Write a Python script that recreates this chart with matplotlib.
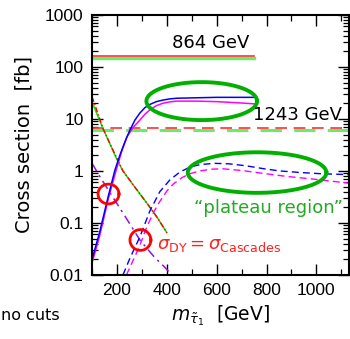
import numpy as np
import matplotlib
matplotlib.use("Agg")
import matplotlib.pyplot as plt

plt.rcParams["font.family"] = ["DejaVu Sans"]
plt.rcParams["mathtext.fontset"] = "dejavusans"

# --- cross sections vs stau mass [GeV] -> [fb] ---
# direct production, solid (blue / magenta)
m_dir_b = [100, 130, 166, 192, 210, 224, 238, 252, 272, 292, 312, 332, 358,
           384, 410, 440, 520, 600, 750]
xs_dir_b = [0.02, 0.065, 0.34, 1.05, 1.9, 2.9, 4.3, 6.1, 9.5, 13, 16.5, 19,
            21.5, 23, 24.2, 25, 25.5, 26, 26]
m_dir_m = [100, 130, 166, 196, 218, 240, 265, 292, 312, 332, 358, 384, 410,
           440, 520, 600, 680, 750]
xs_dir_m = [0.017, 0.055, 0.3, 1.0, 2.3, 4.5, 6.9, 9.5, 12.3, 15, 18, 20,
            21.2, 22, 22, 21.5, 20.5, 19.5]

# second benchmark, dashed (blue / magenta)
m_b2_b = [224, 252, 292, 332, 372, 412, 452, 492, 532, 590, 650, 720, 790,
          852, 940, 1024, 1132]
xs_b2_b = [0.01, 0.021, 0.054, 0.17, 0.4, 0.67, 0.95, 1.18, 1.32, 1.4, 1.37,
           1.25, 1.1, 1.0, 0.93, 0.88, 0.85]
m_b2_m = [238, 260, 290, 320, 350, 372, 400, 424, 460, 492, 532, 580, 624,
          700, 784, 884, 984, 1132]
xs_b2_m = [0.01, 0.017, 0.035, 0.085, 0.17, 0.26, 0.41, 0.55, 0.74, 0.88,
           1.0, 1.08, 1.1, 1.02, 0.9, 0.78, 0.7, 0.58]

# Drell-Yan (dash-dot violet)
m_dy = [100, 130, 172, 230, 292, 350, 392, 420]
xs_dy = [1.4, 0.8, 0.38, 0.14, 0.047, 0.022, 0.014, 0.01]

# cascades, falling (red / green)
m_cas_r = [100, 144, 184, 224, 270, 320, 360, 400]
xs_cas_r = [27, 6.5, 2.5, 1.0, 0.5, 0.24, 0.13, 0.065]
m_cas_g = [100, 144, 204, 224, 270, 320, 360, 400]
xs_cas_g = [21, 6.5, 1.5, 1.0, 0.5, 0.24, 0.13, 0.065]

# flat totals for the two benchmark points
m_flat1 = [100, 750]
xs_flat1_r = [160, 160]
xs_flat1_g = [150, 150]
m_flat2 = [100, 1140]
xs_flat2_r = [6.6, 6.6]
xs_flat2_g = [6.2, 6.2]

x_ticks = [200, 400, 600, 800, 1000]
y_ticks = [0.01, 0.1, 1, 10, 100, 1000]
y_tick_labels = ["0.01", "0.1", "1", "10", "100", "1000"]

fig = plt.figure(figsize=(3.5, 3.39), dpi=100)
ax = fig.add_axes([0.263, 0.189, 0.735, 0.767])
ax.set_yscale("log")
ax.set_xlim(100, 1132)
ax.set_ylim(0.01, 1000)

ax.plot(m_flat1, xs_flat1_g, color="#66ee66", lw=2.4)
ax.plot(m_flat1, xs_flat1_r, color="#ff3030", lw=1.2)
ax.plot(m_flat2, xs_flat2_g, color="#66ee66", lw=2.2, dashes=(7, 4))
ax.plot(m_flat2, xs_flat2_r, color="#ff3030", lw=1.2, dashes=(7, 4))

ax.plot(m_cas_g, xs_cas_g, color="#00ee00", lw=1.1)
ax.plot(m_cas_r, xs_cas_r, color="#ff0000", lw=1.0, dashes=(4, 1.5, 1, 1.5))

ax.plot(m_dy, xs_dy, color="#9a10e0", lw=1.1, dashes=(6, 3, 1.5, 3))

ax.plot(m_dir_m, xs_dir_m, color="#ff00ff", lw=1.1)
ax.plot(m_dir_b, xs_dir_b, color="#0000ff", lw=1.1)
ax.plot(m_b2_m, xs_b2_m, color="#ff00ff", lw=1.0, dashes=(5, 3))
ax.plot(m_b2_b, xs_b2_b, color="#0000ff", lw=1.0, dashes=(5, 3))


def ring(cx, cy, half_w, half_dec, **kw):
    # closed loop that looks round/elliptic on a log y axis
    t = np.linspace(0, 2 * np.pi, 200)
    ax.plot(cx + half_w * np.cos(t), cy * 10 ** (half_dec * np.sin(t)), **kw)


ring(540, 22, 222, 0.365, color="#00b000", lw=2.8)
ring(762, 0.93, 278, 0.39, color="#00b000", lw=2.8)
ring(166, 0.36, 42, 0.19, color="#ff0000", lw=2.0)
ring(294, 0.047, 42, 0.2, color="#ff0000", lw=2.0)

ax.text(420, 290, "864 GeV", fontsize=13, va="center", ha="left")
ax.text(744, 12, "1243 GeV", fontsize=13, va="center", ha="left")
ax.text(808, 0.195, "\u201cplateau region\u201d", fontsize=13, color="#22aa22",
        va="center", ha="center")
ax.text(360, 0.038, r"$\sigma_{\rm DY} = \sigma_{\rm Cascades}$", fontsize=13,
        color="#ff2020", va="center", ha="left")

ax.set_xticks(x_ticks)
ax.set_xticks([100, 300, 500, 700, 900, 1100], minor=True)
ax.set_yticks(y_ticks)
ax.set_yticklabels(y_tick_labels)
for lab in ax.get_xticklabels() + ax.get_yticklabels():
    lab.set_fontfamily("Liberation Sans")
    lab.set_fontsize(12.5)
ax.tick_params(which="both", direction="in", top=True, right=True)
ax.tick_params(which="major", length=8, width=1.0, pad=6)
ax.tick_params(which="minor", length=4.5, width=0.9)
for sp in ax.spines.values():
    sp.set_linewidth(1.5)

ax.set_ylabel("Cross section  [fb]", fontsize=14, labelpad=8)
ax.set_xlabel(r"$m_{\tilde{\tau}_1}$  [GeV]", fontsize=13.5, labelpad=4)

fig.text(0.004, 1 - 315 / 339, "no cuts", fontsize=11.5, ha="left", va="center")

fig.savefig("out.png", dpi=100)
